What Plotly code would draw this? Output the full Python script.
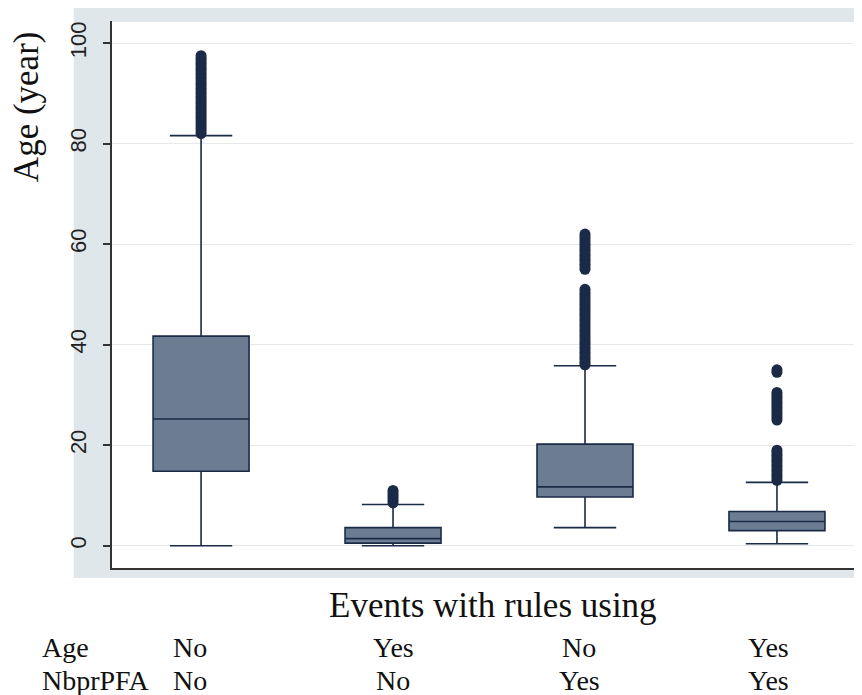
import plotly.graph_objects as go

# groups: (Age rule, NbprPFA rule)
age_rule = ["No", "Yes", "No", "Yes"]
nbpr_rule = ["No", "No", "Yes", "Yes"]
groups = ["g1", "g2", "g3", "g4"]

# box statistics (years)
q1 = [14.8, 0.5, 9.7, 3.0]
median = [25.2, 1.4, 11.7, 4.8]
q3 = [41.7, 3.6, 20.2, 6.8]
lowerfence = [0.0, 0.0, 3.6, 0.4]
upperfence = [81.6, 8.2, 35.8, 12.6]

# outliers (dense, drawn as pills in the original)
out_g1 = [82, 82.5, 83, 83.5, 84, 84.5, 85, 85.5, 86, 86.5, 87, 87.5, 88, 88.5,
          89, 89.5, 90, 90.5, 91, 91.5, 92, 92.5, 93, 93.5, 94, 94.5, 95, 95.5,
          96, 96.5, 97, 97.5]
out_g2 = [8.5, 9, 9.5, 10, 10.5, 11]
out_g3 = [36, 36.5, 37, 37.5, 38, 38.5, 39, 39.5, 40, 40.5, 41, 41.5, 42, 42.5,
          43, 43.5, 44, 44.5, 45, 45.5, 46, 46.5, 47, 47.5, 48, 48.5, 49, 49.5,
          50, 50.5, 51, 55, 55.5, 56, 56.5, 57, 57.5, 58, 58.5, 59, 59.5, 60,
          60.5, 61, 61.5, 62]
out_g4 = [13, 13.5, 14, 14.5, 15, 15.5, 16, 16.5, 17, 17.5, 18, 18.5, 19,
          25, 25.5, 26, 26.5, 27, 27.5, 28, 28.5, 29, 29.5, 30, 30.5, 34.5, 35]

y_ticks = [0, 20, 40, 60, 80, 100]

fill = "#6b7c93"
dark = "#1b2a47"
band = "#dfe7eb"
serif = "Liberation Serif"

fig = go.Figure()
fig.add_trace(go.Box(
    x=groups, q1=q1, median=median, q3=q3,
    lowerfence=lowerfence, upperfence=upperfence,
    boxpoints=False, width=0.5, whiskerwidth=0.65,
    fillcolor=fill, line=dict(color=dark, width=1.6),
    showlegend=False,
))

outliers = [out_g1, out_g2, out_g3, out_g4]
for g, vals in zip(groups, outliers):
    fig.add_trace(go.Scatter(
        x=[g] * len(vals), y=vals, mode="markers",
        marker=dict(size=11, color=dark), showlegend=False,
    ))

# Stata-like grey graph region with white plot region
fig.add_shape(type="rect", xref="paper", yref="paper",
              x0=-0.051, x1=1.0, y0=-0.0183, y1=1.03,
              fillcolor=band, line=dict(width=0), layer="below")
fig.add_shape(type="rect", xref="paper", yref="paper",
              x0=0, x1=1, y0=0, y1=0.998,
              fillcolor="white", line=dict(width=0), layer="below")

# axis title and category rows
fig.add_annotation(text="Age (year)", xref="paper", yref="paper",
                   x=-0.113, y=0.843, xanchor="center", yanchor="middle",
                   textangle=-90, showarrow=False,
                   font=dict(family=serif, size=35, color="#111"))
fig.add_annotation(text="Events with rules using", xref="paper", yref="paper",
                   x=0.508, y=-0.068, xanchor="center", yanchor="middle",
                   showarrow=False,
                   font=dict(family=serif, size=35, color="#111"))
row_y = [-0.146, -0.205]
fig.add_annotation(text="Age", xref="paper", yref="paper", x=-0.096, y=row_y[0],
                   xanchor="left", yanchor="middle", showarrow=False,
                   font=dict(family=serif, size=28, color="#111"))
fig.add_annotation(text="NbprPFA", xref="paper", yref="paper", x=-0.096, y=row_y[1],
                   xanchor="left", yanchor="middle", showarrow=False,
                   font=dict(family=serif, size=28, color="#111"))
shifts = [-11, 0, -6, -8]
for g, a, n, s in zip(groups, age_rule, nbpr_rule, shifts):
    fig.add_annotation(text=a, x=g, xref="x", yref="paper", y=row_y[0],
                       xanchor="center", yanchor="middle",
                       xshift=s, showarrow=False,
                       font=dict(family=serif, size=28, color="#111"))
    fig.add_annotation(text=n, x=g, xref="x", yref="paper", y=row_y[1],
                       xanchor="center", yanchor="middle",
                       xshift=s, showarrow=False,
                       font=dict(family=serif, size=28, color="#111"))

fig.update_layout(
    width=854, height=687,
    margin=dict(l=104, r=0, t=13, b=127),
    paper_bgcolor="white", plot_bgcolor="rgba(0,0,0,0)",
    xaxis=dict(
        type="category", range=[-0.464, 3.443],
        showticklabels=False, showgrid=False, zeroline=False,
        showline=True, linecolor="#333", linewidth=2, ticks="",
    ),
    yaxis=dict(
        range=[-4.44, 104.4], tickvals=y_ticks, tickangle=-90,
        ticks="outside", ticklen=7, tickcolor="#333", tickwidth=1.5,
        showgrid=True, gridcolor="#e6e8ea", gridwidth=1, zeroline=False,
        showline=True, linecolor="#333", linewidth=2,
        tickfont=dict(family="Liberation Sans", size=22, color="#222"),
        ticklabelstandoff=8,
    ),
)

fig.write_html("out.html")
